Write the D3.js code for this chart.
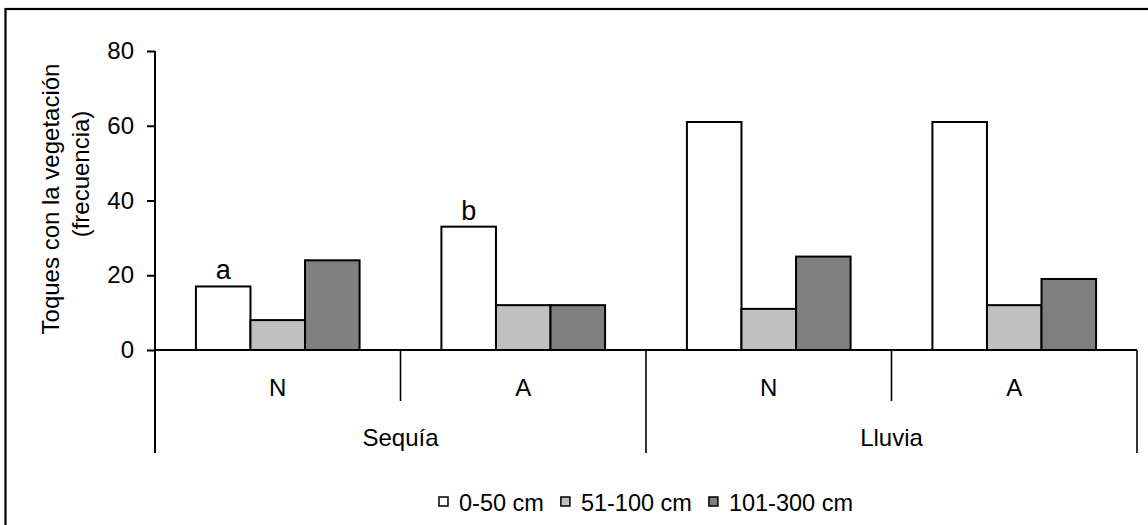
<!DOCTYPE html>
<html>
<head>
<meta charset="utf-8">
<script src="https://cdn.jsdelivr.net/npm/d3@7"></script>
<style>
  html, body { margin: 0; padding: 0; background: #fff; }
  svg { display: block; }
  text { font-family: "Liberation Sans", Arial, sans-serif; fill: #000; }
</style>
</head>
<body>
<svg id="chart" width="1148" height="525"></svg>
<script>
// ---- data ----
const conditions = ["Sequía", "Lluvia"];
const treatments = ["N", "A"];
const seriesNames = ["0-50 cm", "51-100 cm", "101-300 cm"];
const values0to50 = [17, 33, 61, 61];
const values51to100 = [8, 12, 11, 12];
const values101to300 = [24, 12, 25, 19];
const letterLabels = ["a", "b", "", ""];
const yTickValues = [0, 20, 40, 60, 80];
const yLabelLines = ["Toques con la vegetación", "(frecuencia)"];

// ---- layout ----
const svg = d3.select("#chart");
const plotLeft = 155, plotRight = 1137, plotTop = 51, plotBase = 350;
const fontSize = 24;
const legendFontSize = 23.5;
const seriesColors = ["#ffffff", "#c0c0c0", "#808080"];

// outer frame (extends past the picture on right/bottom)
svg.append("rect")
  .attr("x", 5.5).attr("y", 9)
  .attr("width", 1300).attr("height", 700)
  .attr("fill", "none").attr("stroke", "#000").attr("stroke-width", 2.2);

const groups = [];
conditions.forEach(c => treatments.forEach(t => groups.push(c + "|" + t)));

const y = d3.scaleLinear().domain([0, 80]).range([plotBase, plotTop]);
const x0 = d3.scaleBand().domain(groups).range([plotLeft, plotRight]).padding(0);
const x1 = d3.scaleBand().domain(seriesNames).range([0, x0.bandwidth()])
  .paddingInner(0).paddingOuter(0.75);
const xc = d3.scaleBand().domain(conditions).range([plotLeft, plotRight]).padding(0);

const seriesValues = [values0to50, values51to100, values101to300];

// bars
const g = svg.append("g");
groups.forEach((grp, gi) => {
  seriesNames.forEach((s, si) => {
    const v = seriesValues[si][gi];
    g.append("rect")
      .attr("x", x0(grp) + x1(s))
      .attr("y", y(v))
      .attr("width", x1.bandwidth())
      .attr("height", y(0) - y(v))
      .attr("fill", seriesColors[si])
      .attr("stroke", "#000")
      .attr("stroke-width", 2);
  });
  if (letterLabels[gi]) {
    g.append("text")
      .attr("x", x0(grp) + x1(seriesNames[0]) + x1.bandwidth() / 2)
      .attr("y", y(values0to50[gi]) - 7)
      .attr("text-anchor", "middle")
      .attr("font-size", 27)
      .text(letterLabels[gi]);
  }
});

// y axis
const yAxis = d3.axisLeft(y).tickValues(yTickValues).tickSize(8).tickSizeOuter(0).tickPadding(13);
const ya = svg.append("g").attr("transform", `translate(${plotLeft},0)`).call(yAxis);
ya.select(".domain").remove();
ya.selectAll(".tick line").attr("stroke", "#000").attr("stroke-width", 2);
ya.selectAll(".tick text").attr("font-size", fontSize).attr("font-family", '"Liberation Sans", Arial, sans-serif');
svg.append("line")
  .attr("x1", plotLeft).attr("x2", plotLeft)
  .attr("y1", y(80)).attr("y2", 453)
  .attr("stroke", "#000").attr("stroke-width", 2);

// baseline
svg.append("line")
  .attr("x1", plotLeft).attr("x2", plotRight)
  .attr("y1", y(0)).attr("y2", y(0))
  .attr("stroke", "#000").attr("stroke-width", 2);

// group separators (inner: treatment, outer: condition)
groups.forEach((grp, gi) => {
  const xr = x0(grp) + x0.bandwidth();
  const isOuter = (gi % treatments.length) === treatments.length - 1;
  svg.append("line")
    .attr("x1", xr).attr("x2", xr)
    .attr("y1", y(0)).attr("y2", isOuter ? 453 : 401)
    .attr("stroke", "#000").attr("stroke-width", 1.6);
  svg.append("text")
    .attr("x", x0(grp) + x0.bandwidth() / 2)
    .attr("y", 396)
    .attr("text-anchor", "middle")
    .attr("font-size", fontSize)
    .text(grp.split("|")[1]);
});
conditions.forEach(c => {
  svg.append("text")
    .attr("x", xc(c) + xc.bandwidth() / 2)
    .attr("y", 446)
    .attr("text-anchor", "middle")
    .attr("font-size", fontSize)
    .text(c);
});

// y axis title
svg.append("text")
  .attr("transform", "translate(59,199) rotate(-90)")
  .attr("text-anchor", "middle")
  .attr("font-size", fontSize)
  .text(yLabelLines[0]);
svg.append("text")
  .attr("transform", "translate(89,174) rotate(-90)")
  .attr("text-anchor", "middle")
  .attr("font-size", fontSize)
  .text(yLabelLines[1]);

// legend
const leg = svg.append("g");
const boxSize = 9, boxGap = 11, itemGap = 17;
let cx = 0;
seriesNames.forEach((s, si) => {
  const it = leg.append("g").attr("transform", `translate(${cx},0)`);
  it.append("rect")
    .attr("x", 0).attr("y", -boxSize - 5)
    .attr("width", boxSize).attr("height", boxSize)
    .attr("fill", seriesColors[si]).attr("stroke", "#000").attr("stroke-width", 1.5);
  const t = it.append("text")
    .attr("x", boxSize + boxGap).attr("y", 0)
    .attr("font-size", legendFontSize)
    .text(s);
  cx += boxSize + boxGap + t.node().getComputedTextLength() + itemGap;
});
const legW = cx - itemGap;
leg.attr("transform", `translate(${(plotLeft + plotRight) / 2 - legW / 2},511)`);
</script>
</body>
</html>
